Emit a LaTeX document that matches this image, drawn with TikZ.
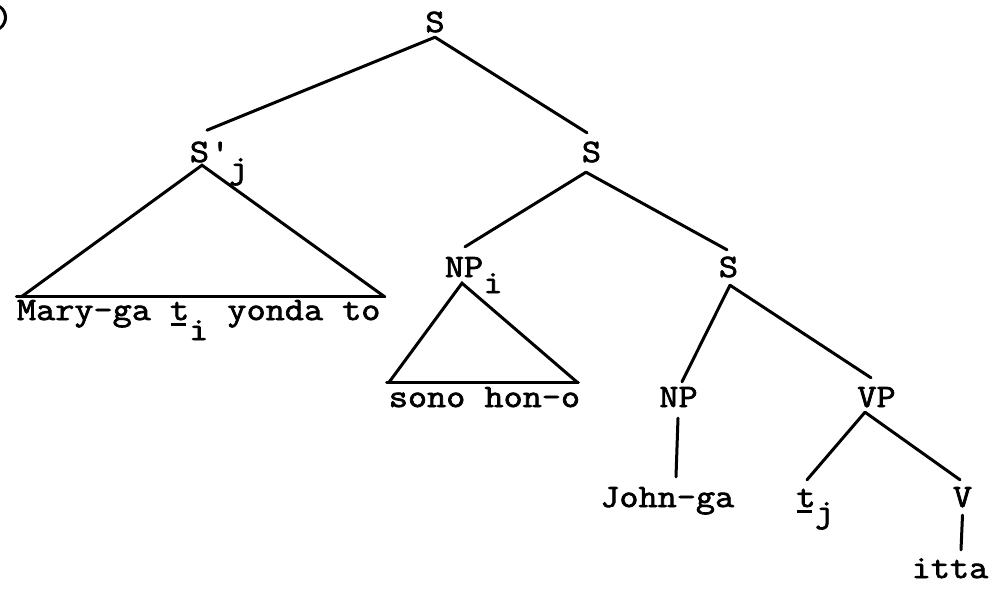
\documentclass[tikz,border=0pt]{standalone}
\usepackage{fontspec}
\setmonofont{Latin Modern Mono}[FakeStretch=1.136,FakeBold=2.2]
\newcommand\tul[1]{\rlap{\hspace{0.5pt}\rule[-6pt]{15pt}{2.6pt}}#1}
\begin{document}
\begin{tikzpicture}[x=1pt,y=-1pt,
  lbl/.style={anchor=base,inner sep=0pt,text height=20pt,text depth=0pt,
    font=\fontsize{32.7pt}{39pt}\selectfont\ttfamily},
  sub/.style={anchor=base,inner sep=0pt,
    font=\fontsize{32.7pt}{39pt}\selectfont\ttfamily},
  edge/.style={line width=3pt,line cap=round}]
\useasboundingbox (0,0) rectangle (994,589);
% labels
\node[sub] (num) at (3.5,27.5) {)};
\node[lbl] (tS) at (435,32) {S};
\node[lbl] (Sp) at (199.5,162) {S};
\node[sub] (Spp) at (219,162) {\textquotesingle};
\node[sub] (Spj) at (238.5,178) {j};
\node[lbl] (S2) at (591.5,162) {S};
\node[lbl] (NPi) at (464,277) {NP};
\node[sub] (NPii) at (493,293) {i};
\node[lbl] (S3) at (728.5,277) {S};
\node[lbl] (Mary) at (198.75,320) {Mary-ga \tul{t}\raisebox{-20pt}{i} yonda to};
\node[lbl] (sono) at (484.5,407) {sono hon-o};
\node[lbl] (NP) at (678.5,407) {NP};
\node[lbl] (VP) at (876.5,407) {VP};
\node[lbl] (John) at (667.25,507) {John-ga};
\node[lbl] (t) at (806,507) {\tul{t}};
\node[sub] (tj) at (824.5,522) {j};
\node[lbl] (V) at (962.5,507) {V};
\node[lbl] (itta) at (950,578) {itta};
% connectors
\draw[edge] ([yshift=-5pt]tS.south) -- ([xshift=7.5pt,yshift=11.6pt]Sp.north);
\draw[edge] ([yshift=-5pt]tS.south) -- ([xshift=-4.5pt,yshift=9pt]S2.north);
% S'_j triangle
\draw[edge] ([xshift=4.5pt,yshift=3pt]Mary.north west) -- ([xshift=2.5pt,yshift=-3pt]Sp.south)
  -- ([xshift=4pt,yshift=3pt]Mary.north east);
\draw[edge] ([xshift=-0.5pt,yshift=3pt]Mary.north west) -- ([xshift=4pt,yshift=3pt]Mary.north east);
% S2
\draw[edge] ([xshift=-5.5pt,yshift=-10pt]S2.south) -- ([xshift=1pt,yshift=10pt]NPi.north);
\draw[edge] ([xshift=-5.5pt,yshift=-10pt]S2.south) -- ([xshift=-1.5pt,yshift=7pt]S3.north);
% NP_i triangle
\draw[edge] ([yshift=4pt]sono.north west) -- ([xshift=-2pt,yshift=-6pt]NPi.south)
  -- ([xshift=-2.5pt,yshift=4pt]sono.north east);
\draw[edge] ([xshift=-2pt,yshift=4pt]sono.north west) -- ([xshift=-2pt,yshift=4pt]sono.north east);
% S3
\draw[edge] ([xshift=1.5pt,yshift=-8pt]S3.south) -- ([xshift=3.5pt,yshift=5pt]NP.north);
\draw[edge] ([xshift=1.5pt,yshift=-8pt]S3.south) -- ([xshift=-5.5pt,yshift=9pt]VP.north);
% NP
\draw[edge] ([xshift=-0.5pt,yshift=-11pt]NP.south) -- ([xshift=8.75pt,yshift=10pt]John.north);
% VP
\draw[edge] ([xshift=-11.5pt,yshift=-5pt]VP.south) -- ([xshift=1pt,yshift=7pt]t.north);
\draw[edge] ([xshift=-11.5pt,yshift=-5pt]VP.south) -- ([xshift=-2.5pt,yshift=7pt]V.north);
% V
\draw[edge] ([yshift=-8pt]V.south) -- ([xshift=11pt,yshift=8pt]itta.north);
\end{tikzpicture}
\end{document}
